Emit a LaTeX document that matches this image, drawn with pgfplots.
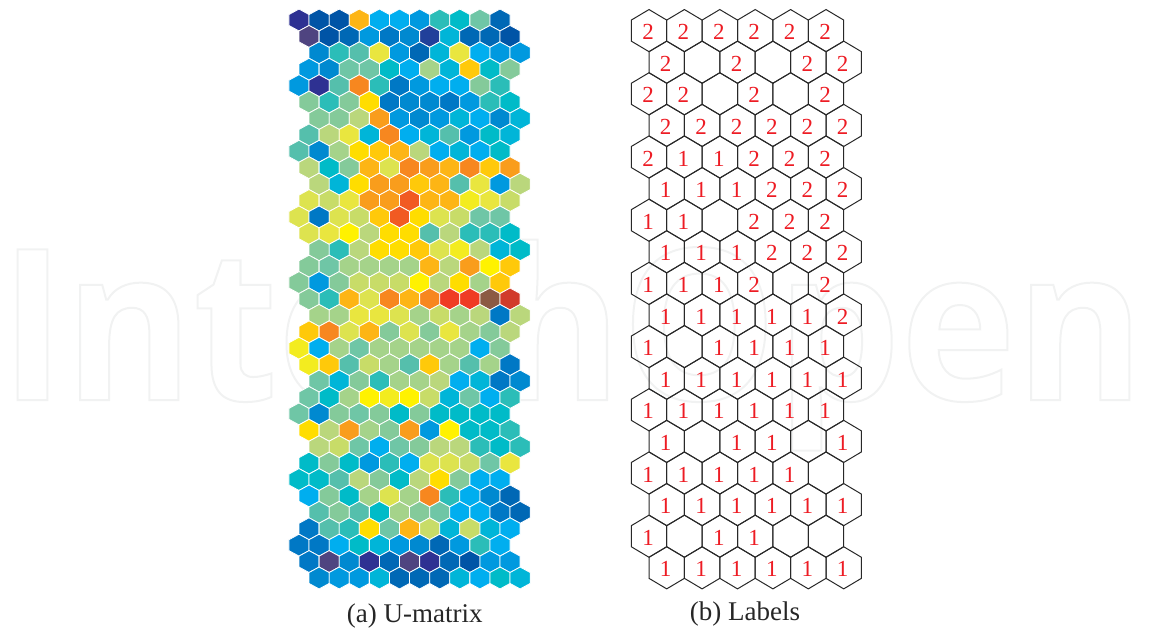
\documentclass[border=0pt]{standalone}
\usepackage{fontspec}
\setmainfont{Liberation Serif}
\newfontfamily\wmfont{Open Sans Bold}[FakeStretch=0.925]
\usepackage{pgfplots}
\pgfplotsset{compat=1.18}
\usetikzlibrary{plotmarks}

% point-up hexagons, filled for the U-matrix, open for the label map
\pgfdeclareplotmark{hexfill}{%
  \pgfpathmoveto{\pgfqpoint{0pt}{10.95pt}}%
  \pgfpathlineto{\pgfqpoint{10.05pt}{5.47pt}}%
  \pgfpathlineto{\pgfqpoint{10.05pt}{-5.47pt}}%
  \pgfpathlineto{\pgfqpoint{0pt}{-10.95pt}}%
  \pgfpathlineto{\pgfqpoint{-10.05pt}{-5.47pt}}%
  \pgfpathlineto{\pgfqpoint{-10.05pt}{5.47pt}}%
  \pgfpathclose\pgfusepathqfillstroke}
\pgfdeclareplotmark{hexopen}{%
  \pgfpathmoveto{\pgfqpoint{0pt}{21.07pt}}%
  \pgfpathlineto{\pgfqpoint{17.7pt}{10.53pt}}%
  \pgfpathlineto{\pgfqpoint{17.7pt}{-10.53pt}}%
  \pgfpathlineto{\pgfqpoint{0pt}{-21.07pt}}%
  \pgfpathlineto{\pgfqpoint{-17.7pt}{-10.53pt}}%
  \pgfpathlineto{\pgfqpoint{-17.7pt}{10.53pt}}%
  \pgfpathclose\pgfusepathqstroke}

\pgfplotsset{
  colormap={som}{
    rgb255=(79,68,128) rgb255=(46,49,146) rgb255=(33,64,154) rgb255=(0,84,166)
    rgb255=(0,104,181) rgb255=(0,120,197) rgb255=(0,137,208) rgb255=(0,153,223)
    rgb255=(0,174,239) rgb255=(0,181,216) rgb255=(0,187,200) rgb255=(43,189,184)
    rgb255=(85,191,172) rgb255=(111,198,166) rgb255=(132,202,154) rgb255=(165,211,138)
    rgb255=(186,215,124) rgb255=(200,220,104) rgb255=(221,227,79) rgb255=(233,230,63)
    rgb255=(243,236,31) rgb255=(255,242,0) rgb255=(255,221,0) rgb255=(255,201,10)
    rgb255=(253,181,21) rgb255=(249,157,28) rgb255=(247,135,31) rgb255=(241,90,34)
    rgb255=(239,59,36) rgb255=(209,59,43) rgb255=(139,90,68)
  },
  panel/.style={scale only axis, axis lines=none, clip=false, y dir=reverse, anchor=north west},
}
\definecolor{labelred}{RGB}{237,28,36}
\definecolor{hexline}{RGB}{40,40,40}

\begin{document}
\begin{tikzpicture}
\useasboundingbox (0pt,0pt) rectangle (1149pt,-629pt);

% faint outlined watermark behind the panels
\node[anchor=base west,inner sep=0pt] at (0pt,-400pt)
  {\fontsize{211}{211}\wmfont\special{pdf:code q 0.945 0.949 0.949 RG 2 w 1 Tr}IntechOpen\special{pdf:code Q}};

\begin{axis}[panel, at={(288.95pt,-3.59pt)},
  width=241.2pt, height=590.8pt,
  xmin=-1, xmax=23, ymin=-1, ymax=35,
  point meta min=0, point meta max=30]
\addplot[scatter, only marks, scatter src=explicit, mark=hexfill, line width=0.8pt,
  scatter/use mapped color={draw=white, fill=mapped color}]
coordinates {
(0,0)[1] (2,0)[3] (4,0)[3] (6,0)[24] (8,0)[8] (10,0)[8] (12,0)[7] (14,0)[11] (16,0)[10] (18,0)[13] (20,0)[4]
(1,1)[0] (3,1)[3] (5,1)[4] (7,1)[7] (9,1)[5] (11,1)[6] (13,1)[2] (15,1)[9] (17,1)[4] (19,1)[4] (21,1)[3]
(2,2)[6] (4,2)[11] (6,2)[12] (8,2)[19] (10,2)[7] (12,2)[4] (14,2)[9] (16,2)[19] (18,2)[8] (20,2)[7] (22,2)[7]
(1,3)[7] (3,3)[6] (5,3)[13] (7,3)[13] (9,3)[10] (11,3)[8] (13,3)[15] (15,3)[9] (17,3)[23] (19,3)[10] (21,3)[14]
(0,4)[7] (2,4)[1] (4,4)[12] (6,4)[26] (8,4)[11] (10,4)[5] (12,4)[7] (14,4)[8] (16,4)[8] (18,4)[14] (20,4)[11]
(1,5)[14] (3,5)[11] (5,5)[14] (7,5)[22] (9,5)[5] (11,5)[6] (13,5)[6] (15,5)[5] (17,5)[7] (19,5)[11] (21,5)[10]
(2,6)[14] (4,6)[14] (6,6)[16] (8,6)[25] (10,6)[7] (12,6)[6] (14,6)[7] (16,6)[9] (18,6)[8] (20,6)[6] (22,6)[9]
(1,7)[12] (3,7)[16] (5,7)[19] (7,7)[9] (9,7)[26] (11,7)[8] (13,7)[9] (15,7)[12] (17,7)[7] (19,7)[10] (21,7)[9]
(0,8)[12] (2,8)[6] (4,8)[15] (6,8)[22] (8,8)[23] (10,8)[24] (12,8)[16] (14,8)[8] (16,8)[9] (18,8)[8] (20,8)[10]
(1,9)[16] (3,9)[10] (5,9)[14] (7,9)[24] (9,9)[18] (11,9)[26] (13,9)[25] (15,9)[24] (17,9)[26] (19,9)[23] (21,9)[25]
(2,10)[16] (4,10)[9] (6,10)[22] (8,10)[25] (10,10)[25] (12,10)[23] (14,10)[24] (16,10)[12] (18,10)[19] (20,10)[7] (22,10)[16]
(1,11)[18] (3,11)[17] (5,11)[19] (7,11)[25] (9,11)[25] (11,11)[27] (13,11)[24] (15,11)[24] (17,11)[20] (19,11)[19] (21,11)[17]
(0,12)[18] (2,12)[5] (4,12)[18] (6,12)[17] (8,12)[23] (10,12)[27] (12,12)[22] (14,12)[18] (16,12)[17] (18,12)[13] (20,12)[13]
(1,13)[18] (3,13)[19] (5,13)[21] (7,13)[16] (9,13)[22] (11,13)[22] (13,13)[12] (15,13)[16] (17,13)[11] (19,13)[11] (21,13)[10]
(2,14)[14] (4,14)[11] (6,14)[16] (8,14)[22] (10,14)[22] (12,14)[23] (14,14)[18] (16,14)[20] (18,14)[16] (20,14)[9] (22,14)[10]
(1,15)[14] (3,15)[13] (5,15)[15] (7,15)[15] (9,15)[15] (11,15)[15] (13,15)[24] (15,15)[16] (17,15)[25] (19,15)[21] (21,15)[23]
(0,16)[14] (2,16)[7] (4,16)[14] (6,16)[17] (8,16)[17] (10,16)[17] (12,16)[21] (14,16)[16] (16,16)[22] (18,16)[15] (20,16)[23]
(1,17)[14] (3,17)[11] (5,17)[24] (7,17)[18] (9,17)[26] (11,17)[24] (13,17)[26] (15,17)[28] (17,17)[28] (19,17)[30] (21,17)[29]
(2,18)[15] (4,18)[15] (6,18)[19] (8,18)[19] (10,18)[18] (12,18)[15] (14,18)[17] (16,18)[15] (18,18)[16] (20,18)[5] (22,18)[16]
(1,19)[23] (3,19)[26] (5,19)[18] (7,19)[24] (9,19)[14] (11,19)[18] (13,19)[14] (15,19)[19] (17,19)[15] (19,19)[14] (21,19)[16]
(0,20)[20] (2,20)[8] (4,20)[15] (6,20)[13] (8,20)[15] (10,20)[15] (12,20)[15] (14,20)[15] (16,20)[15] (18,20)[8] (20,20)[14]
(1,21)[20] (3,21)[23] (5,21)[12] (7,21)[17] (9,21)[15] (11,21)[12] (13,21)[23] (15,21)[15] (17,21)[12] (19,21)[15] (21,21)[5]
(2,22)[13] (4,22)[9] (6,22)[14] (8,22)[11] (10,22)[15] (12,22)[15] (14,22)[16] (16,22)[8] (18,22)[9] (20,22)[5] (22,22)[6]
(1,23)[13] (3,23)[10] (5,23)[15] (7,23)[21] (9,23)[20] (11,23)[21] (13,23)[17] (15,23)[9] (17,23)[13] (19,23)[8] (21,23)[11]
(0,24)[13] (2,24)[6] (4,24)[14] (6,24)[13] (8,24)[14] (10,24)[10] (12,24)[14] (14,24)[10] (16,24)[10] (18,24)[10] (20,24)[10]
(1,25)[22] (3,25)[16] (5,25)[25] (7,25)[15] (9,25)[14] (11,25)[25] (13,25)[7] (15,25)[21] (17,25)[10] (19,25)[10] (21,25)[11]
(2,26)[16] (4,26)[17] (6,26)[13] (8,26)[8] (10,26)[13] (12,26)[14] (14,26)[16] (16,26)[16] (18,26)[11] (20,26)[10] (22,26)[11]
(1,27)[10] (3,27)[14] (5,27)[10] (7,27)[7] (9,27)[11] (11,27)[8] (13,27)[18] (15,27)[18] (17,27)[17] (19,27)[13] (21,27)[19]
(0,28)[10] (2,28)[10] (4,28)[12] (6,28)[16] (8,28)[14] (10,28)[10] (12,28)[16] (14,28)[22] (16,28)[14] (18,28)[8] (20,28)[8]
(1,29)[8] (3,29)[14] (5,29)[10] (7,29)[15] (9,29)[18] (11,29)[15] (13,29)[26] (15,29)[11] (17,29)[8] (19,29)[6] (21,29)[4]
(2,30)[12] (4,30)[14] (6,30)[12] (8,30)[10] (10,30)[15] (12,30)[14] (14,30)[13] (16,30)[8] (18,30)[8] (20,30)[5] (22,30)[4]
(1,31)[5] (3,31)[12] (5,31)[11] (7,31)[22] (9,31)[13] (11,31)[24] (13,31)[17] (15,31)[9] (17,31)[17] (19,31)[9] (21,31)[8]
(0,32)[5] (2,32)[5] (4,32)[8] (6,32)[10] (8,32)[9] (10,32)[7] (12,32)[6] (14,32)[4] (16,32)[7] (18,32)[11] (20,32)[8]
(1,33)[5] (3,33)[0] (5,33)[6] (7,33)[1] (9,33)[4] (11,33)[0] (13,33)[1] (15,33)[4] (17,33)[3] (19,33)[7] (21,33)[7]
(2,34)[6] (4,34)[7] (6,34)[7] (8,34)[9] (10,34)[4] (12,34)[4] (14,34)[4] (16,34)[9] (18,34)[8] (20,34)[10] (22,34)[9]
};
\end{axis}

\begin{axis}[panel, at={(631.3pt,1pt)},
  width=230.1pt, height=600.4pt,
  xmin=-1, xmax=12, ymin=-1, ymax=18]
\addplot[only marks, mark=hexopen, line width=1pt, draw=hexline,
  mark options={draw=hexline},
  point meta=explicit symbolic,
  nodes near coords,
  nodes near coords style={anchor=center, inner sep=0pt, xshift=-1pt, yshift=-1.5pt, text=labelred,
    font=\fontsize{23}{23}\selectfont}]
coordinates {
(0,0)[2] (2,0)[2] (4,0)[2] (6,0)[2] (8,0)[2] (10,0)[2]
(1,1)[2] (3,1)[] (5,1)[2] (7,1)[] (9,1)[2] (11,1)[2]
(0,2)[2] (2,2)[2] (4,2)[] (6,2)[2] (8,2)[] (10,2)[2]
(1,3)[2] (3,3)[2] (5,3)[2] (7,3)[2] (9,3)[2] (11,3)[2]
(0,4)[2] (2,4)[1] (4,4)[1] (6,4)[2] (8,4)[2] (10,4)[2]
(1,5)[1] (3,5)[1] (5,5)[1] (7,5)[2] (9,5)[2] (11,5)[2]
(0,6)[1] (2,6)[1] (4,6)[] (6,6)[2] (8,6)[2] (10,6)[2]
(1,7)[1] (3,7)[1] (5,7)[1] (7,7)[2] (9,7)[2] (11,7)[2]
(0,8)[1] (2,8)[1] (4,8)[1] (6,8)[2] (8,8)[] (10,8)[2]
(1,9)[1] (3,9)[1] (5,9)[1] (7,9)[1] (9,9)[1] (11,9)[2]
(0,10)[1] (2,10)[] (4,10)[1] (6,10)[1] (8,10)[1] (10,10)[1]
(1,11)[1] (3,11)[1] (5,11)[1] (7,11)[1] (9,11)[1] (11,11)[1]
(0,12)[1] (2,12)[1] (4,12)[1] (6,12)[1] (8,12)[1] (10,12)[1]
(1,13)[1] (3,13)[] (5,13)[1] (7,13)[1] (9,13)[] (11,13)[1]
(0,14)[1] (2,14)[1] (4,14)[1] (6,14)[1] (8,14)[1] (10,14)[]
(1,15)[1] (3,15)[1] (5,15)[1] (7,15)[1] (9,15)[1] (11,15)[1]
(0,16)[1] (2,16)[] (4,16)[1] (6,16)[1] (8,16)[] (10,16)[]
(1,17)[1] (3,17)[1] (5,17)[1] (7,17)[1] (9,17)[1] (11,17)[1]
};
\end{axis}

\node[anchor=base,inner sep=0pt,text=black!85] at (414.7pt,-622pt) {\fontsize{27}{27}\selectfont (a) U-matrix};
\node[anchor=base,inner sep=0pt,text=black!85] at (745pt,-620pt) {\fontsize{27}{27}\selectfont (b) Labels};
\end{tikzpicture}
\end{document}
